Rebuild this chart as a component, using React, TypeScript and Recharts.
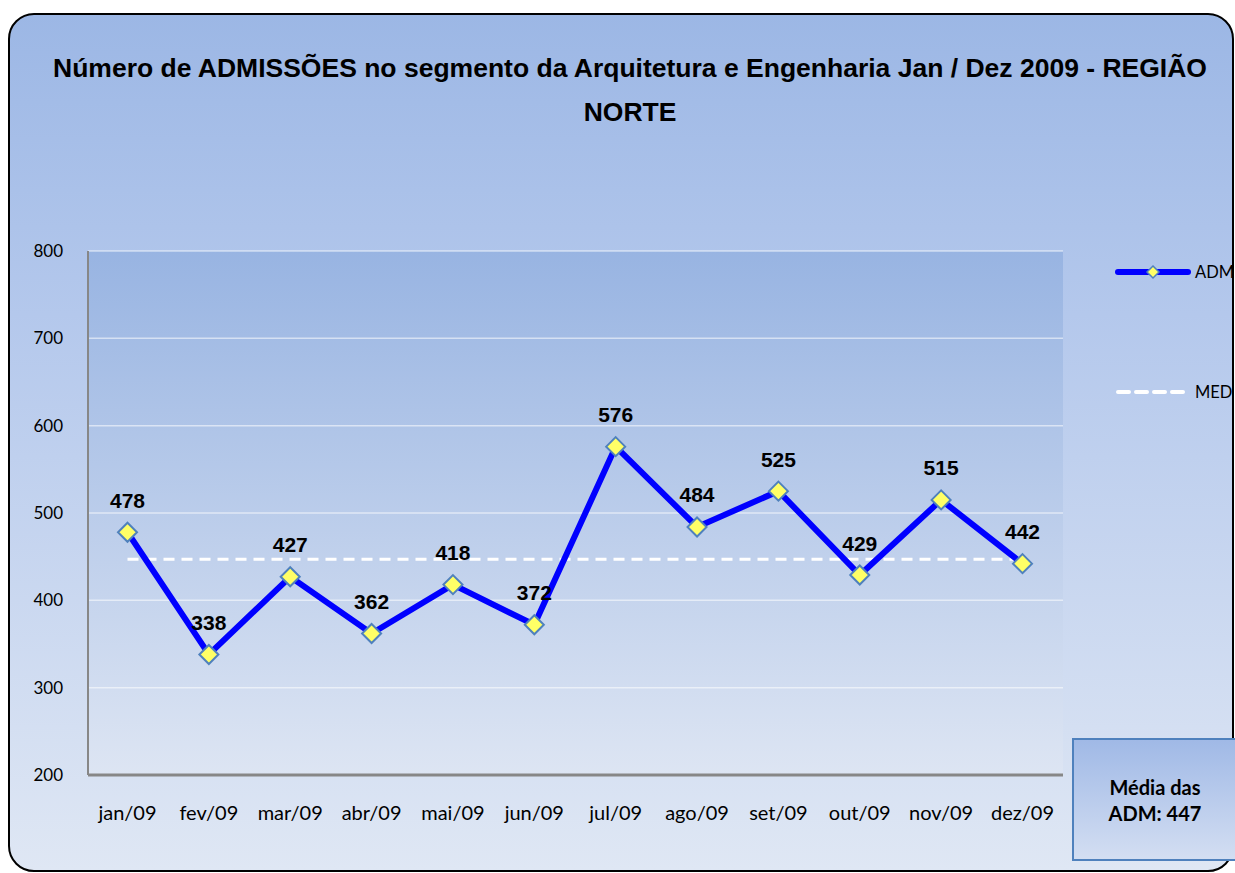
import React from 'react';
import {
  LineChart,
  Line,
  XAxis,
  YAxis,
  CartesianGrid,
  LabelList,
  Legend,
} from 'recharts';

// values
const months = ['jan/09', 'fev/09', 'mar/09', 'abr/09', 'mai/09', 'jun/09', 'jul/09', 'ago/09', 'set/09', 'out/09', 'nov/09', 'dez/09'];
const admValues = [478, 338, 427, 362, 418, 372, 576, 484, 525, 429, 515, 442];
const medValues = [447, 447, 447, 447, 447, 447, 447, 447, 447, 447, 447, 447];
const yTicks = [200, 300, 400, 500, 600, 700, 800];
const mediaAdm = 447;

const data = months.map((m, i) => ({ month: m, adm: admValues[i], med: medValues[i] }));

const titleFont = '"Liberation Sans", Arial, sans-serif';
const bodyFont = 'Lato, "Open Sans", sans-serif';

const Diamond = (props: any) => {
  const { cx, cy, index } = props;
  if (cx == null || cy == null) return null;
  const r = 9.5;
  return (
    <polygon
      key={'d' + index}
      points={`${cx},${cy - r} ${cx + r},${cy} ${cx},${cy + r} ${cx - r},${cy}`}
      fill="#ffff66"
      stroke="#4f81bd"
      strokeWidth={2}
    />
  );
};

const renderLabel = (props: any) => {
  const { x, y, value, index } = props;
  return (
    <text
      key={'l' + index}
      x={x}
      y={y - 32}
      textAnchor="middle"
      dominantBaseline="central"
      fontFamily={titleFont}
      fontWeight="bold"
      fontSize={21}
      fill="#000"
    >
      {value}
    </text>
  );
};

// legend width is taken off the right margin by recharts
const renderLegend = () => (
  <div style={{ fontFamily: bodyFont, fontSize: 16.5, color: '#000' }}>
    <div style={{ display: 'flex', alignItems: 'center', height: 24 }}>
      <svg width={78} height={20}>
        <line x1={3} y1={10} x2={73} y2={10} stroke="#0000ff" strokeWidth={6} strokeLinecap="round" />
        <polygon points="38,4 44,10 38,16 32,10" fill="#ffff66" stroke="#4f81bd" strokeWidth={1.5} />
      </svg>
      <span style={{ marginLeft: 2 }}>ADM</span>
    </div>
    <div style={{ display: 'flex', alignItems: 'center', height: 24, marginTop: 96 }}>
      <svg width={78} height={20}>
        <line x1={3} y1={10} x2={70} y2={10} stroke="#ffffff" strokeWidth={4} strokeDasharray="11 7" strokeLinecap="round" />
      </svg>
      <span style={{ marginLeft: 2 }}>MED</span>
    </div>
  </div>
);

export default function App() {
  return (
    <div style={{ position: 'absolute', left: 0, top: 0, width: 1235, height: 873, overflow: 'hidden', background: '#fff' }}>
      <div
        style={{
          position: 'absolute',
          left: 8,
          top: 13,
          width: 1222,
          height: 855,
          border: '2px solid #000',
          borderRadius: 26,
          background: 'linear-gradient(to bottom, #9cb7e5 0%, #b4c8ec 35%, #dfe7f4 100%)',
        }}
      />
      <div
        style={{
          position: 'absolute',
          left: 30,
          top: 46,
          width: 1200,
          textAlign: 'center',
          fontFamily: titleFont,
          fontWeight: 'bold',
          fontSize: 26.5,
          lineHeight: '44px',
          color: '#000',
        }}
      >
        Número de ADMISSÕES no segmento da Arquitetura e Engenharia Jan / Dez 2009 - REGIÃO
        <br />
        NORTE
      </div>
      <div style={{ position: 'absolute', left: 0, top: 0 }}>
        <LineChart width={1235} height={873} data={data} margin={{ top: 251, right: 42, bottom: 68, left: 0 }}>
          <defs>
            <linearGradient id="plotBg" x1="0" y1="0" x2="0" y2="1">
              <stop offset="0%" stopColor="#98b4e2" />
              <stop offset="100%" stopColor="#dde5f3" />
            </linearGradient>
          </defs>
          <CartesianGrid vertical={false} fill="url(#plotBg)" stroke="rgba(255,255,255,0.55)" strokeWidth={1.5} />
          <XAxis
            dataKey="month"
            padding={{ left: 39.5, right: 40.5 }}
            tickLine={false}
            tickSize={0}
            tickMargin={31}
            axisLine={{ stroke: '#878787', strokeWidth: 3 }}
            tick={{ fill: '#000', fontFamily: bodyFont, fontSize: 20 }}
          />
          <YAxis
            width={88}
            domain={[200, 800]}
            ticks={yTicks}
            tickLine={false}
            tickSize={0}
            tickMargin={25}
            axisLine={{ stroke: '#878787', strokeWidth: 2 }}
            tick={{ fill: '#000', fontFamily: bodyFont, fontSize: 17 }}
          />
          <Legend
            layout="vertical"
            verticalAlign="top"
            align="right"
            content={renderLegend}
            wrapperStyle={{ position: 'absolute', left: 1115, top: 260, width: 130 }}
          />
          <Line
            dataKey="med"
            name="MED"
            stroke="#ffffff"
            strokeWidth={3}
            strokeDasharray="11 7"
            dot={false}
            activeDot={false}
            isAnimationActive={false}
          />
          <Line
            dataKey="adm"
            name="ADM"
            stroke="#0000ff"
            strokeWidth={6}
            dot={Diamond}
            activeDot={false}
            isAnimationActive={false}
          >
            <LabelList dataKey="adm" content={renderLabel} />
          </Line>
        </LineChart>
      </div>
      <div
        style={{
          position: 'absolute',
          left: 1072,
          top: 738,
          width: 162,
          height: 119,
          border: '2px solid #4f81bd',
          background: 'linear-gradient(to bottom, #a0b9e6, #d3def2)',
          display: 'flex',
          alignItems: 'center',
          justifyContent: 'center',
          textAlign: 'center',
          fontFamily: bodyFont,
          fontWeight: 'bold',
          fontSize: 20,
          lineHeight: '26px',
          color: '#000',
        }}
      >
        Média das
        <br />
        ADM: {mediaAdm}
      </div>
    </div>
  );
}
